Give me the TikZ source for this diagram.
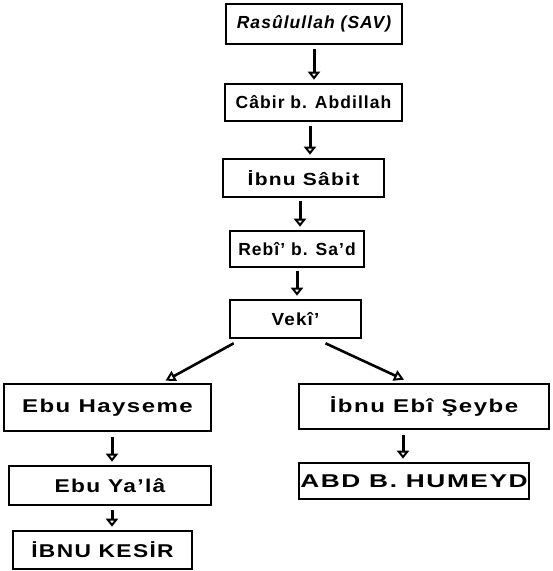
\documentclass[tikz,border=0pt]{standalone}
\usepackage{fontspec}
\setmainfont{Liberation Sans}[LetterSpace=6]
\usetikzlibrary{arrows.meta,calc}
\newcommand{\xs}[2]{\scalebox{#1}[1]{#2}}
\begin{document}
\begin{tikzpicture}[x=1pt,y=-1pt,
  box/.style={draw=black,line width=2.6pt,inner sep=0pt,font=\fontsize{17.5}{20}\selectfont\bfseries},
  big/.style={font=\fontsize{18.5}{20}\selectfont\bfseries},
  varr/.style={line width=3pt,-{Triangle[length=8pt,width=12pt,open,line width=2pt]}},
  darr/.style={line width=2.6pt,-{Triangle[length=10pt,width=11pt,open,line width=2pt]}}]
\useasboundingbox (0,0) rectangle (553,571);
\node[box,minimum width=176pt,minimum height=40pt] (r1) at (314,24) {\itshape Rasûlullah (SAV)};
\node[box,minimum width=177pt,minimum height=37pt] (r2) at (313.5,102.5) {Câbir b. Abdillah};
\node[box,minimum width=161pt,minimum height=38pt] (r3) at (303.5,178) {\xs{1.2}{İbnu Sâbit}};
\node[box,minimum width=134pt,minimum height=36pt] (r4) at (297,249) {Rebî' b. Sa'd};
\node[box,minimum width=131pt,minimum height=38pt] (r5) at (295.5,319) {\xs{1.08}{Vekî'}};
\node[box,big,minimum width=207pt,minimum height=47pt] (l1) at (107.5,407.5) {\xs{1.3}{Ebu Hayseme}};
\node[box,big,minimum width=250pt,minimum height=45pt] (m1) at (424,406.5) {\xs{1.3}{İbnu Ebî Şeybe}};
\node[box,big,minimum width=202pt,minimum height=39pt] (l2) at (110,485.5) {\xs{1.23}{Ebu Ya'lâ}};
\node[box,big,minimum width=230pt,minimum height=36pt] (m2) at (414,481) {\xs{1.42}{ABD B. HUMEYD}};
\node[box,big,minimum width=179pt,minimum height=38pt] (l3) at (102.5,550) {\xs{1.23}{İBNU KESİR}};
\draw[varr,shorten <=4pt,shorten >=3pt] (r1.south) -- (r1.south |- r2.north);
\draw[varr,shorten <=4pt,shorten >=3pt] (r2.south -| 310,0) -- (r3.north -| 310,0);
\draw[varr,shorten <=3pt,shorten >=3pt] (r3.south -| 300,0) -- (r4.north -| 300,0);
\draw[varr,shorten <=3pt,shorten >=3pt] (r4.south -| 297,0) -- (r5.north -| 297,0);
\draw[darr] ($(r5.south west)+(5,4)$) -- ($(l1.north)+(58,-2)$);
\draw[darr] ($(r5.south)+(30,4)$) -- ($(m1.north)+(-20,-3)$);
\draw[varr,shorten <=5pt,shorten >=3pt] (l1.south -| 112,0) -- (l2.north -| 112,0);
\draw[varr,shorten <=5pt,shorten >=3pt] (m1.south -| 403,0) -- (m2.north -| 403,0);
\draw[varr,shorten <=4pt,shorten >=3pt] (l2.south -| 112,0) -- (l3.north -| 112,0);
\end{tikzpicture}
\end{document}
